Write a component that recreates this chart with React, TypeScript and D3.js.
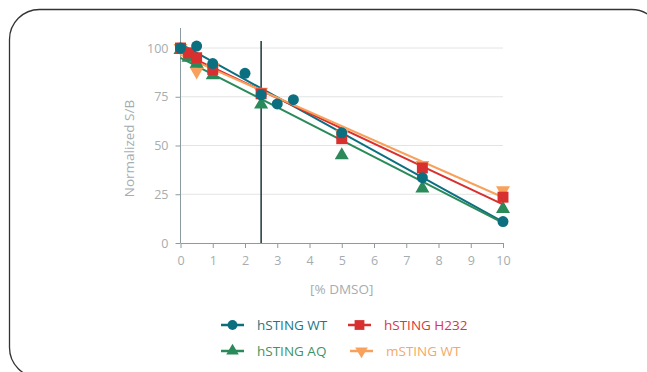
import React, { useRef, useEffect } from 'react';
import * as d3 from 'd3';

// DMSO concentrations per series, and normalized S/B
const wtX = [0, 0.5, 1, 2, 2.5, 3, 3.5, 5, 7.5, 10];
const wtY = [100, 101, 92, 87, 76, 71.3, 73.5, 56.5, 33.5, 11];
const h232X = [0, 0.25, 0.5, 1, 2.5, 5, 7.5, 10];
const h232Y = [100, 97.5, 95, 89, 76.5, 53.5, 38.5, 23.5];
const aqX = [0, 0.25, 0.5, 1, 2.5, 5, 7.5, 10];
const aqY = [99, 95, 92, 86, 71, 45, 28, 17.5];
const mWtX = [0, 0.25, 0.5, 1, 2.5, 5, 7.5, 10];
const mWtY = [100, 98, 88, 90, 77.5, 56, 40, 27];

const seriesNames = ['hSTING WT', 'hSTING H232', 'hSTING AQ', 'mSTING WT'];
const seriesColors = ['#0c6f80', '#d7302f', '#2a8a5a', '#f8a15c'];
const legendColors = ['#1b7686', '#d8393a', '#3d9466', '#f5a866'];
const xTicks = [0, 1, 2, 3, 4, 5, 6, 7, 8, 9, 10];
const yTicks = [0, 25, 50, 75, 100];
const markerLine = 2.5;

const App = () => {
  const svgRef = useRef<SVGSVGElement>(null);

  useEffect(() => {
    const svg = d3.select(svgRef.current);
    svg.selectAll('*').remove();

    const font = "'Open Sans', sans-serif";

    // card outline
    svg.append('rect')
      .attr('x', 9.5).attr('y', 9.5)
      .attr('width', 652).attr('height', 368)
      .attr('rx', 30)
      .attr('fill', 'none')
      .attr('stroke', '#333')
      .attr('stroke-width', 1.3);

    const x = d3.scaleLinear().domain([0, 10]).range([180.5, 503]);
    const y = d3.scaleLinear().domain([0, 100]).range([243, 48]);

    // gridlines
    svg.append('g')
      .selectAll('line')
      .data(yTicks.filter(d => d > 0))
      .join('line')
      .attr('x1', x(0)).attr('x2', x(10))
      .attr('y1', d => y(d)).attr('y2', d => y(d))
      .attr('stroke', '#e2e4e4').attr('stroke-width', 1);

    const axisColor = '#8c9ba0';
    const labelColor = '#a4adb0';

    // x axis
    const gx = svg.append('g')
      .attr('transform', `translate(0,${y(0)})`)
      .call(d3.axisBottom(x).tickValues(xTicks).tickSize(5).tickPadding(8).tickSizeOuter(0));
    gx.select('.domain').attr('stroke', axisColor);
    gx.selectAll('line').attr('stroke', axisColor);
    gx.selectAll('text').attr('fill', labelColor).style('font-family', font).style('font-size', '12.5px');

    // y axis
    const gy = svg.append('g')
      .attr('transform', `translate(${x(0)},0)`)
      .call(d3.axisLeft(y).tickValues(yTicks).tickSize(5).tickPadding(7).tickSizeOuter(0));
    gy.select('.domain').attr('d', `M0,28V${y(0)}`).attr('stroke', axisColor);
    gy.selectAll('line').attr('stroke', axisColor);
    gy.selectAll('text').attr('fill', labelColor).style('font-family', font).style('font-size', '12.5px');

    // axis titles
    svg.append('text')
      .attr('x', x(5)).attr('y', 294)
      .attr('text-anchor', 'middle')
      .attr('fill', labelColor)
      .style('font-family', font).style('font-size', '13.5px')
      .text('[% DMSO]');
    svg.append('text')
      .attr('transform', `translate(134,${y(50) + 3}) rotate(-90)`)
      .attr('text-anchor', 'middle')
      .attr('fill', labelColor)
      .style('font-family', font).style('font-size', '13.5px')
      .text('Normalized S/B');

    // reference line at 2.5 %
    svg.append('line')
      .attr('x1', x(2.5)).attr('x2', x(2.5))
      .attr('y1', 41).attr('y2', y(0))
      .attr('stroke', '#1d3535').attr('stroke-width', 1.5);

    const allSeries = [
      { xs: wtX, ys: wtY, sym: d3.symbolCircle, size: 95, rot: 0 },
      { xs: h232X, ys: h232Y, sym: d3.symbolSquare, size: 120, rot: 0 },
      { xs: aqX, ys: aqY, sym: d3.symbolTriangle, size: 85, rot: 0 },
      { xs: mWtX, ys: mWtY, sym: d3.symbolTriangle, size: 85, rot: 180 },
    ];

    // linear fits
    allSeries.forEach((s, i) => {
      const mx = d3.mean(s.xs)!;
      const my = d3.mean(s.ys)!;
      const sxy = d3.sum(s.xs, (v, k) => (v - mx) * (s.ys[k] - my));
      const sxx = d3.sum(s.xs, v => (v - mx) ** 2);
      const slope = sxy / sxx;
      const icpt = my - slope * mx;
      svg.append('line')
        .attr('x1', x(0)).attr('y1', y(icpt))
        .attr('x2', x(10)).attr('y2', y(icpt + slope * 10))
        .attr('stroke', seriesColors[i]).attr('stroke-width', 2);
    });

    // markers, draw order so blue sits on top like the reference
    [3, 2, 1, 0].forEach(i => {
      const s = allSeries[i];
      svg.append('g')
        .selectAll('path')
        .data(s.xs.map((v, k) => [v, s.ys[k]]))
        .join('path')
        .attr('d', d3.symbol().type(s.sym).size(s.size)())
        .attr('transform', d => `translate(${x(d[0])},${y(d[1])}) rotate(${s.rot})`)
        .attr('fill', seriesColors[i]);
    });

    // legend
    const legendPos = [[221, 325], [348, 325], [221, 351], [350, 351]];
    allSeries.forEach((s, i) => {
      const [lx, ly] = legendPos[i];
      const g = svg.append('g').attr('transform', `translate(${lx},${ly})`);
      g.append('line')
        .attr('x1', 0).attr('x2', 23)
        .attr('stroke', seriesColors[i]).attr('stroke-width', markerLine);
      g.append('path')
        .attr('d', d3.symbol().type(s.sym).size(s.size * 0.8)())
        .attr('transform', `translate(11.5,0) rotate(${s.rot})`)
        .attr('fill', seriesColors[i]);
      g.append('text')
        .attr('x', 36).attr('y', 5)
        .attr('fill', legendColors[i])
        .style('font-family', font).style('font-size', '13.5px')
        .text(seriesNames[i]);
    });
  }, []);

  return (
    <svg
      ref={svgRef}
      width={647}
      height={372}
      style={{ position: 'absolute', left: 0, top: 0 }}
    />
  );
};

export default App;
